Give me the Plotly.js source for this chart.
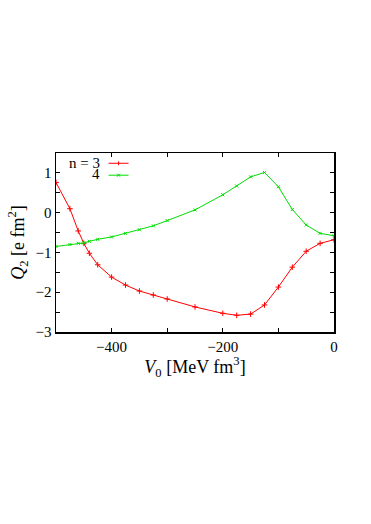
<!DOCTYPE html>
<html>
<head>
<meta charset="utf-8">
<script src="https://cdn.plot.ly/plotly-3.0.1.min.js"></script>
<style>html,body{margin:0;padding:0;background:#fff;}#chart{width:371px;height:524px;}</style>
</head>
<body>
<div id="chart"></div>
<script>
const v0 = [-500, -475, -460, -450, -440, -425, -400, -375, -350, -325, -300, -250, -200, -175, -150, -125, -100, -75, -50, -25, 0];
const q2n3 = [0.76, 0.10, -0.46, -0.77, -1.02, -1.31, -1.62, -1.82, -1.97, -2.07, -2.17, -2.37, -2.53, -2.58, -2.55, -2.32, -1.87, -1.37, -0.97, -0.77, -0.68];
const q2n4 = [-0.85, -0.80, -0.77, -0.76, -0.72, -0.67, -0.61, -0.52, -0.43, -0.33, -0.20, 0.07, 0.45, 0.67, 0.90, 1.01, 0.65, 0.08, -0.31, -0.52, -0.58];
const legendLabels = ["n = 3", "4"];
const colors = ["#ff0000", "#00dd00"];

const font = "Liberation Serif";

const traces = [
  {x: v0, y: q2n3, mode: "lines+markers", line: {color: colors[0], width: 1},
   marker: {symbol: "cross-thin", size: 4, line: {color: colors[0], width: 1}}, showlegend: false},
  {x: v0, y: q2n4, mode: "lines+markers", line: {color: colors[1], width: 1},
   marker: {symbol: "x-thin", size: 3, line: {color: colors[1], width: 1}}, showlegend: false}
];

const legY = [0.9426, 0.876];
const legX = 0.225;
const shapes = [];
const annotations = [];
legendLabels.forEach((lab, i) => {
  shapes.push({type: "line", xref: "paper", yref: "paper", x0: 0.189, x1: 0.261, y0: legY[i], y1: legY[i],
               line: {color: colors[i], width: 1}});
  annotations.push({text: lab, xref: "paper", yref: "paper", x: 0.163, y: legY[i] + 0.004, xanchor: "right", yanchor: "middle",
                    showarrow: false, font: {family: font, size: 15, color: "#000"}, borderpad: 0});
});
// legend sample markers
shapes.push({type: "line", xref: "paper", yref: "paper", x0: legX, x1: legX, y0: legY[0] - 0.011, y1: legY[0] + 0.011,
             line: {color: colors[0], width: 1}});
shapes.push({type: "line", xref: "paper", yref: "paper", x0: legX - 0.0054, x1: legX + 0.0054, y0: legY[1] - 0.0084, y1: legY[1] + 0.0084,
             line: {color: colors[1], width: 1}});
shapes.push({type: "line", xref: "paper", yref: "paper", x0: legX - 0.0054, x1: legX + 0.0054, y0: legY[1] + 0.0084, y1: legY[1] - 0.0084,
             line: {color: colors[1], width: 1}});

const layout = {
  width: 371, height: 524,
  margin: {l: 55.5, r: 37, t: 152.7, b: 192, pad: 0},
  paper_bgcolor: "#fff", plot_bgcolor: "#fff",
  font: {family: font, size: 15, color: "#000"},
  xaxis: {
    range: [-500, 0], tickmode: "linear", tick0: -400, dtick: 200,
    ticks: "inside", ticklen: 4, tickwidth: 1, tickcolor: "#000",
    minor: {tick0: -500, dtick: 100, ticks: "inside", ticklen: 4, tickcolor: "#000"},
    showline: true, linecolor: "#000", linewidth: 1.5, mirror: "ticks",
    showgrid: false, zeroline: false,
    tickfont: {family: font, size: 15},
    title: {text: "<i>V</i><sub>0</sub> [MeV fm<sup>3</sup>]", font: {family: font, size: 18}, standoff: 2}
  },
  yaxis: {
    range: [-3, 1.5], tickmode: "linear", tick0: 0, dtick: 1,
    ticks: "inside", ticklen: 4, tickwidth: 1, tickcolor: "#000",
    minor: {dtick: 0.5, ticks: "inside", ticklen: 4, tickcolor: "#000"},
    showline: true, linecolor: "#000", linewidth: 1.5, mirror: "ticks",
    showgrid: false, zeroline: false,
    tickfont: {family: font, size: 15},
    title: {text: "<i>Q</i><sub>2</sub> [e fm<sup>2</sup>]", font: {family: font, size: 18}, standoff: 6}
  },
  shapes: shapes,
  annotations: annotations
};

Plotly.newPlot("chart", traces, layout, {displayModeBar: false, staticPlot: true});
</script>
</body>
</html>
